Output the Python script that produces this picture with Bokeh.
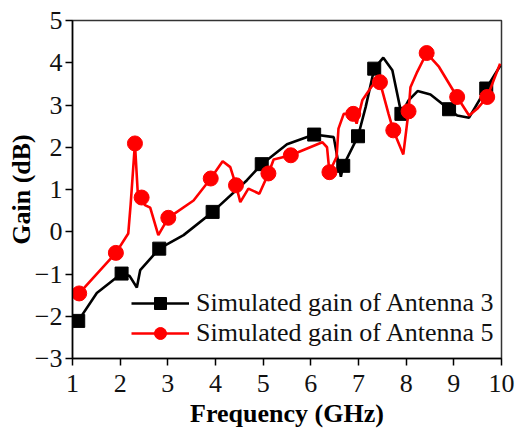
from bokeh.plotting import figure
from bokeh.models import Legend, LegendItem, FixedTicker, Range1d
from bokeh.embed import file_html
from bokeh.resources import INLINE

# Antenna 3 (black, squares)
freq3 = [1.12, 1.51, 2.03, 2.20, 2.35, 2.42, 2.82, 3.33, 3.94, 4.66, 4.97, 5.50,
         6.07, 6.48, 6.63, 6.68, 6.99, 7.15, 7.33, 7.52, 7.71, 7.90, 8.05, 8.24,
         8.51, 8.90, 9.07, 9.32, 9.68, 9.98]
gain3 = [-2.11, -1.45, -0.99, -1.05, -1.32, -0.91, -0.40, -0.08, 0.47, 1.22, 1.60, 2.07,
         2.30, 2.24, 1.30, 1.56, 2.26, 2.95, 3.86, 4.12, 3.82, 2.79, 3.11, 3.33,
         3.25, 2.90, 2.75, 2.70, 3.39, 3.94]
marks3 = [0, 2, 6, 8, 10, 12, 15, 16, 18, 21, 25, 28]

# Antenna 5 (red, circles)
freq5 = [1.14, 1.91, 2.17, 2.22, 2.31, 2.37, 2.45, 2.52, 2.63, 2.80, 3.01, 3.54,
         3.90, 4.15, 4.31, 4.43, 4.52, 4.69, 4.92, 5.11, 5.22, 5.58, 6.24, 6.34,
         6.39, 6.54, 6.58, 6.69, 6.89, 6.96, 7.08, 7.29, 7.45, 7.63, 7.73, 7.94,
         8.05, 8.09, 8.23, 8.43, 8.69, 9.07, 9.32, 9.49, 9.70, 9.97]
gain5 = [-1.46, -0.50, -0.04, 0.65, 2.09, 0.90, 0.81, 0.63, 0.57, -0.08, 0.33, 0.74,
         1.26, 1.67, 1.53, 1.10, 0.70, 1.02, 0.90, 1.38, 1.71, 1.81, 2.12, 2.00,
         1.41, 1.77, 2.44, 2.79, 2.79, 2.56, 3.11, 3.46, 3.54, 2.79, 2.40, 1.83,
         2.85, 3.42, 3.78, 4.23, 3.90, 3.19, 2.75, 2.91, 3.19, 3.98]
marks5 = [0, 1, 4, 6, 10, 12, 15, 19, 21, 24, 28, 32, 34, 36, 39, 41, 44]

x_ticks = [1, 2, 3, 4, 5, 6, 7, 8, 9, 10]
y_ticks = [-3, -2, -1, 0, 1, 2, 3, 4, 5]
labels = ["Simulated gain of Antenna 3", "Simulated gain of Antenna 5"]

FONT = "Liberation Serif"

p = figure(width=517, height=432, output_backend="svg", toolbar_location=None,
           x_range=Range1d(1, 10), y_range=Range1d(-3, 5),
           min_border_left=72, min_border_right=16, min_border_top=20,
           min_border_bottom=74, background_fill_color="white",
           border_fill_color="white")
p.grid.visible = False
p.outline_line_color = "#333333"
p.outline_line_width = 1.5

p.xaxis.ticker = FixedTicker(ticks=x_ticks)
p.yaxis.ticker = FixedTicker(ticks=y_ticks)
p.xaxis.axis_label = "Frequency (GHz)"
p.yaxis.axis_label = "Gain (dB)"

p.axis.axis_line_color = "black"
p.axis.axis_line_width = 1.5
p.axis.major_tick_line_color = "black"
p.axis.major_tick_line_width = 1.5
p.axis.major_tick_out = 7
p.axis.major_tick_in = 0
p.axis.minor_tick_line_color = None
p.axis.major_label_text_font = FONT
p.axis.major_label_text_font_size = "26px"
p.axis.major_label_text_color = "#111111"
p.axis.axis_label_text_font = FONT
p.axis.axis_label_text_font_size = "26px"
p.axis.axis_label_text_font_style = "bold"
p.axis.axis_label_text_color = "black"
p.xaxis.major_label_standoff = 9
p.xaxis.axis_label_standoff = 4
p.yaxis.major_label_standoff = 3
p.yaxis.axis_label_standoff = -4

l3 = p.line(freq3, gain3, line_color="black", line_width=2.6)
s3 = p.scatter([freq3[i] for i in marks3], [gain3[i] for i in marks3],
               marker="square", size=13, fill_color="black", line_color="black")
l5 = p.line(freq5, gain5, line_color="#ff0000", line_width=2.6)
s5 = p.scatter([freq5[i] for i in marks5], [gain5[i] for i in marks5],
               marker="circle", size=15, fill_color="#ff0000", line_color="#ff0000")

legend = Legend(items=[LegendItem(label=labels[0], renderers=[l3, s3]),
                       LegendItem(label=labels[1], renderers=[l5, s5])],
                location=(59, 10))
legend.glyph_width = 58
legend.glyph_height = 30
legend.label_height = 30
legend.spacing = 0
legend.padding = 0
legend.margin = 0
legend.label_standoff = 7
legend.label_text_font = FONT
legend.label_text_font_size = "26px"
legend.label_text_color = "#111111"
legend.border_line_color = None
legend.background_fill_alpha = 0
p.add_layout(legend, "center")

open("out.html", "w").write(file_html(p, INLINE))
